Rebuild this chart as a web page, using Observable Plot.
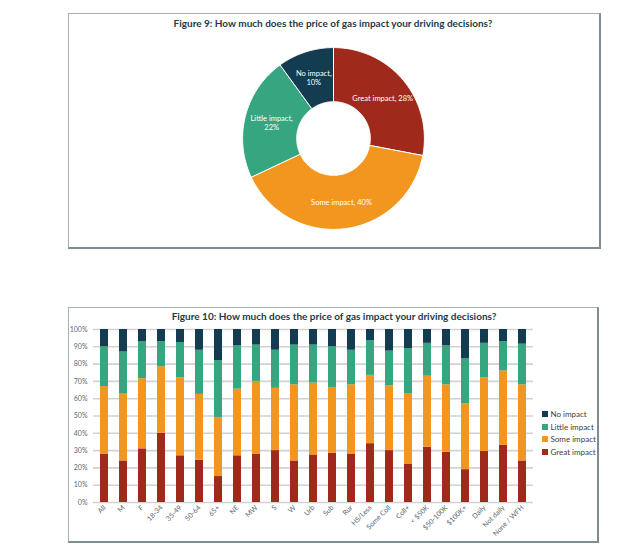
<!DOCTYPE html>
<html><head><meta charset="utf-8">
<script src="https://cdn.jsdelivr.net/npm/d3@7"></script>
<script src="https://cdn.jsdelivr.net/npm/@observablehq/plot@0.6"></script>
<style>
body{margin:0;background:#fff;font-family:Lato,"Noto Sans",sans-serif;}
#root{position:relative;width:629px;height:558px;overflow:hidden;background:#fff;}
.box{position:absolute;box-sizing:border-box;border-top:1px solid #a7afb2;border-left:1px solid #a7afb2;border-right:2px solid #7f8c90;border-bottom:2px solid #7f8c90;}
.title{position:absolute;font-weight:bold;color:#1c3a4c;font-size:10px;white-space:nowrap;transform:translate(-50%,-50%);}
.abs{position:absolute;}
.leg{position:absolute;left:542px;font-size:8px;color:#404040;white-space:nowrap;display:flex;align-items:center;transform:translateY(-50%);}
.leg span.sw{display:inline-block;width:6px;height:6px;margin-right:2.5px;}
</style>
</head><body>
<div id="root">
  <div class="box" style="left:68px;top:13px;width:533px;height:236px;"></div>
  <div class="title" id="t1" style="left:333px;top:23px;">Figure 9: How much does the price of gas impact your driving decisions?</div>
  <div class="abs" id="pie" style="left:233px;top:38px;"></div>
  <div class="box" style="left:68px;top:307px;width:531px;height:236px;"></div>
  <div class="title" id="t2" style="left:334px;top:316px;">Figure 10: How much does the price of gas impact your driving decisions?</div>
  <div class="abs" id="bars" style="left:60px;top:320px;"></div>
  <div id="legend"></div>
</div>
<script>
// ---- Data ----
const impacts = ["Great impact", "Some impact", "Little impact", "No impact"];
const impactColors = ["#9f2a1c", "#f2961f", "#35a680", "#143c50"];
const pieValues = [28, 40, 22, 10];

const categories = ["All","M","F","18-34","35-49","50-64","65+","NE","MW","S","W","Urb","Sub","Rur","HS/Less","Some Coll","Coll+","< $50K","$50-100K","$100K+","Daily","Not daily","None / WFH"];
const greatImpact  = [28, 24, 31,   40,   27,   24.5, 15, 27,   28, 30, 24, 27.5, 28.5, 28, 34,   30,   22, 32, 29,   19, 29.5, 33, 24];
const someImpact   = [39, 39, 40.5, 38.5, 45,   38,   34, 38.5, 42, 36, 44, 41.5, 38,   40, 39.5, 37.5, 41, 41, 39,   38, 42.5, 43, 44];
const littleImpact = [23, 24, 21.5, 14.5, 20.5, 25.5, 33, 25,   21, 22, 23, 22,   23.5, 20, 20,   20,   26, 19, 22.5, 26, 20,   17, 23.5];
const noImpact     = [10, 13, 7,    7,    7.5,  12,   18, 9.5,  9,  12, 9,  9,    10,   12, 6.5,  12.5, 11, 8,  9.5,  17, 8,    7,  8.5];
const yTicks = [0,10,20,30,40,50,60,70,80,90,100];

// ---- Donut ----
const innerR = 0.405;
const arcs = d3.pie().sort(null).value(d => d)(pieValues);
const polys = [];
const labels = [];
arcs.forEach((a, i) => {
  const key = impacts[i];
  const n = 80;
  const pts = [];
  for (let k = 0; k <= n; k++) {
    const t = a.startAngle + (a.endAngle - a.startAngle) * k / n;
    pts.push({key, x: Math.sin(t), y: Math.cos(t)});
  }
  for (let k = n; k >= 0; k--) {
    const t = a.startAngle + (a.endAngle - a.startAngle) * k / n;
    pts.push({key, x: innerR * Math.sin(t), y: innerR * Math.cos(t)});
  }
  pts.push({...pts[0]});
  polys.push(...pts);
  const mid = (a.startAngle + a.endAngle) / 2;
  const rm = (1 + innerR) / 2;
  const txt = (i === 0 || i === 1) ? `${key}, ${pieValues[i]}%` : `${key},\n${pieValues[i]}%`;
  labels.push({x: rm * Math.sin(mid), y: rm * Math.cos(mid), text: txt});
});

const pie = Plot.plot({
  width: 200, height: 200, margin: 0,
  x: {domain: [-1.1, 1.1], axis: null},
  y: {domain: [-1.1, 1.1], axis: null},
  color: {domain: impacts, range: impactColors},
  style: {fontFamily: "Lato, 'Noto Sans', sans-serif", background: "transparent", overflow: "visible"},
  marks: [
    Plot.line(polys, {x: "x", y: "y", z: "key", fill: "key", stroke: "white", strokeWidth: 1, curve: "linear"}),
    Plot.text(labels, {x: "x", y: "y", text: "text", fill: "white", fontSize: 7.5, lineHeight: 1.25})
  ]
});
document.getElementById("pie").appendChild(pie);

// ---- Stacked bars ----
const series = [greatImpact, someImpact, littleImpact, noImpact];
const rows = [];
categories.forEach((c, j) => {
  impacts.forEach((imp, i) => rows.push({cat: c, impact: imp, value: series[i][j]}));
});

const bars = Plot.plot({
  width: 480, height: 225,
  marginLeft: 33, marginRight: 7, marginTop: 9, marginBottom: 43,
  x: {domain: categories, paddingInner: 0.58, paddingOuter: 0.32, label: null},
  y: {domain: [0, 100], label: null},
  color: {domain: impacts, range: impactColors},
  style: {fontFamily: "Lato, 'Noto Sans', sans-serif", fontSize: "7px", color: "#5b6870", background: "transparent", overflow: "visible"},
  marks: [
    Plot.ruleY(yTicks, {stroke: "#d2d2d2", strokeWidth: 1.6}),
    Plot.barY(rows, {x: "cat", y: "value", fill: "impact", order: null}),
    Plot.axisY(yTicks, {tickSize: 0, tickPadding: 6, tickFormat: d => d + "%", label: null}),
    Plot.axisX({tickSize: 0, tickPadding: 4, tickRotate: -45, label: null})
  ]
});
document.getElementById("bars").appendChild(bars);

// ---- Legend ----
const legendY = {"No impact": 414, "Little impact": 426.5, "Some impact": 439, "Great impact": 451.5};
const legend = document.getElementById("legend");
["No impact", "Little impact", "Some impact", "Great impact"].forEach(k => {
  const d = document.createElement("div");
  d.className = "leg";
  d.style.top = legendY[k] + "px";
  d.innerHTML = `<span class="sw" style="background:${impactColors[impacts.indexOf(k)]}"></span>${k}`;
  legend.appendChild(d);
});
</script>
</body></html>
